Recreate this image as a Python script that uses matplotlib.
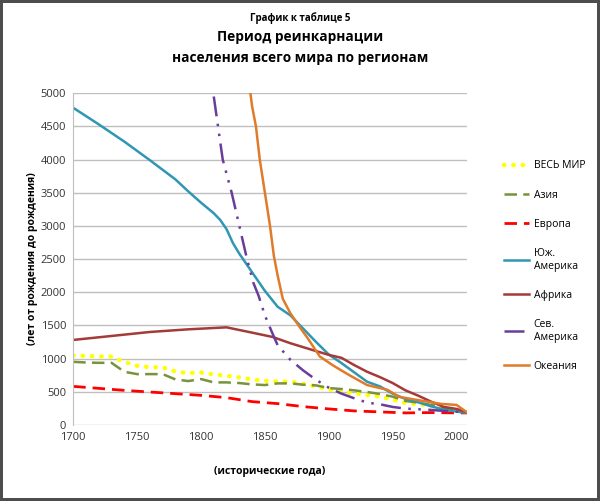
import matplotlib.pyplot as plt

plt.rcParams['font.family'] = ['Open Sans', 'DejaVu Sans']

# years and values per series
world_years = [1700, 1710, 1720, 1730, 1740, 1750, 1760, 1770, 1780, 1790, 1800, 1810, 1820, 1830,
               1840, 1850, 1860, 1870, 1880, 1890, 1900, 1910, 1920, 1930, 1940, 1950, 1960, 1970,
               1980, 1990, 2000, 2008]
world = [1045, 1040, 1030, 1030, 950, 890, 870, 865, 805, 780, 790, 760, 740, 715,
         685, 665, 655, 650, 620, 580, 535, 500, 475, 452, 425, 380, 330, 310,
         290, 255, 230, 190]

asia_years = [1700, 1710, 1720, 1730, 1740, 1750, 1760, 1770, 1780, 1790, 1800, 1810, 1820, 1830,
              1840, 1850, 1860, 1870, 1880, 1890, 1900, 1910, 1920, 1930, 1940, 1950, 1960, 1970,
              1980, 1990, 2000, 2008]
asia = [950, 940, 935, 935, 800, 765, 765, 765, 685, 660, 690, 640, 640, 630,
        610, 600, 625, 625, 605, 595, 555, 540, 520, 495, 465, 425, 360, 335,
        300, 260, 230, 190]

europe_years = [1700, 1720, 1740, 1760, 1780, 1800, 1820, 1840, 1860, 1880, 1900, 1920, 1940,
                1960, 1980, 2000, 2008]
europe = [580, 550, 520, 495, 470, 445, 410, 350, 320, 275, 240, 210, 195,
          180, 185, 180, 180]

sam_years = [1700, 1720, 1740, 1760, 1780, 1790, 1800, 1810, 1815, 1820, 1825, 1830, 1840, 1850, 1860,
             1870, 1880, 1890, 1900, 1910, 1920, 1930, 1940, 1950, 1960, 1970, 1980, 1990, 2000, 2008]
sam = [4780, 4530, 4270, 3990, 3700, 3520, 3350, 3190, 3090, 2950, 2740, 2580, 2300, 2020, 1780,
       1650, 1450, 1250, 1060, 930, 790, 650, 580, 470, 390, 340, 280, 230, 200, 180]

africa_years = [1700, 1730, 1760, 1790, 1810, 1820, 1830, 1840, 1856, 1870, 1887, 1900, 1910, 1920,
                1930, 1940, 1950, 1960, 1970, 1980, 1990, 2000, 2008]
africa = [1280, 1340, 1400, 1440, 1460, 1470, 1430, 1390, 1325, 1230, 1130, 1055, 1010, 900,
          800, 720, 630, 520, 440, 350, 270, 240, 190]

nam_years = [1810, 1817, 1824, 1830, 1836, 1841, 1845, 1850, 1855, 1860, 1870, 1880, 1890, 1900,
             1910, 1920, 1930, 1940, 1950, 1960, 1970, 1980, 1990, 2000, 2008]
nam = [4950, 4000, 3500, 3000, 2500, 2140, 1950, 1650, 1420, 1200, 980, 820, 680, 560,
       470, 400, 335, 310, 270, 245, 235, 225, 210, 200, 190]

oce_years = [1836, 1840, 1843, 1846, 1850, 1854, 1857, 1860, 1864, 1870, 1877, 1883, 1893, 1903,
             1909, 1916, 1930, 1946, 1955, 1969, 1988, 2000, 2008]
oce = [5400, 4800, 4500, 4000, 3500, 3000, 2550, 2250, 1900, 1680, 1480, 1320, 1030, 900,
       830, 750, 600, 527, 422, 376, 316, 300, 190]

fig = plt.figure(figsize=(6.0, 5.01), dpi=100)
fig.patch.set_edgecolor('#4d4d4d')
fig.patch.set_linewidth(3)
ax = fig.add_axes([0.122, 0.152, 0.656, 0.662])

ax.plot(world_years, world, color='#ffff00', lw=3.2, linestyle=(0, (0.1, 2.0)),
        dash_capstyle='round', label='ВЕСЬ МИР')
ax.plot(asia_years, asia, color='#77933c', lw=1.8, linestyle=(0, (5, 2.5)),
        label='Азия')
ax.plot(europe_years, europe, color='#ff0000', lw=2, linestyle=(0, (4.5, 2.5)),
        label='Европа')
ax.plot(sam_years, sam, color='#2f97b3', lw=1.8, label='Юж.\nАмерика')
ax.plot(africa_years, africa, color='#a33b38', lw=1.8, label='Африка')
ax.plot(nam_years, nam, color='#6a3d9a', lw=1.8, linestyle=(0, (8, 3, 1, 3, 1, 3)),
        label='Сев.\nАмерика')
ax.plot(oce_years, oce, color='#e07b2a', lw=1.8, label='Океания')

ax.set_xlim(1700, 2008)
ax.set_ylim(0, 5000)
ax.set_xticks(range(1700, 2001, 50))
ax.set_yticks(range(0, 5001, 500))
ax.tick_params(length=0, labelsize=8, colors='#333333', pad=5)
ax.grid(axis='y', color='#bfbfbf', lw=1)
ax.set_axisbelow(True)
for s in ['top', 'right', 'bottom']:
    ax.spines[s].set_visible(False)
ax.spines['left'].set_color('#bfbfbf')

ax.set_xlabel('(исторические года)', fontsize=7.5, fontweight='bold', labelpad=17)
ax.set_ylabel('(лет от рождения до рождения)', fontsize=7.5, fontweight='bold', labelpad=2)

fig.text(0.5, 0.963, 'График к таблице 5', ha='center', va='center', fontsize=7, fontweight='bold')
fig.text(0.5, 0.927, 'Период реинкарнации', ha='center', va='center', fontsize=9.8, fontweight='bold')
fig.text(0.5, 0.884, 'населения всего мира по регионам', ha='center', va='center', fontsize=9.8,
         fontweight='bold')

ax.legend(loc='upper left', bbox_to_anchor=(1.083, 0.81), frameon=False, fontsize=7.5,
          handlelength=2.4, handletextpad=0.5, labelspacing=1.75, borderaxespad=0)

fig.savefig('out.png', dpi=100)
